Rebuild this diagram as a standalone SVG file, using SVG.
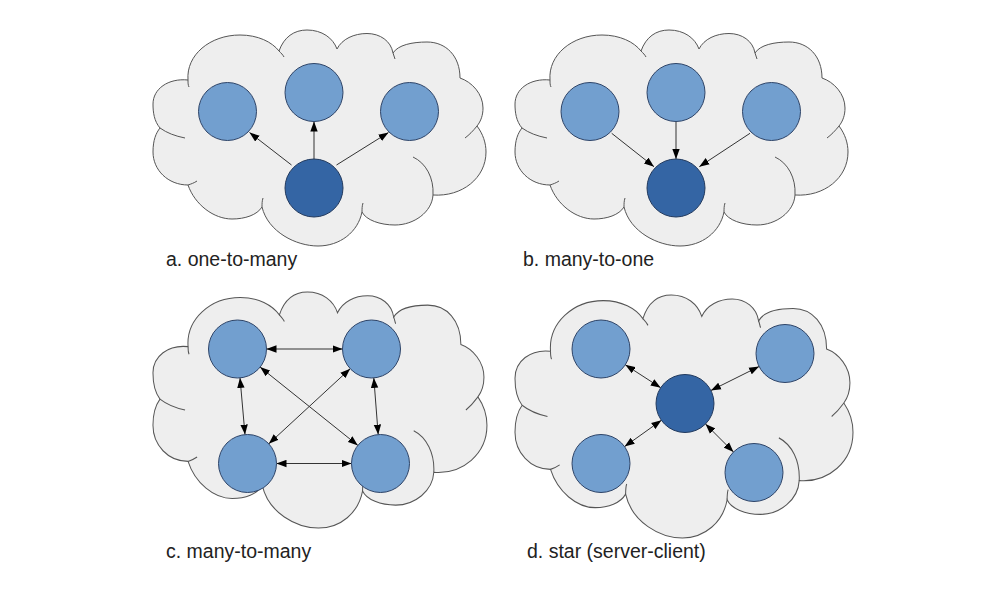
<svg xmlns="http://www.w3.org/2000/svg" xmlns:xlink="http://www.w3.org/1999/xlink" width="992" height="600" viewBox="0 0 992 600">
  <style>
    .cloud { fill: #eeeeee; stroke: #555555; stroke-width: 1; vector-effect: non-scaling-stroke; }
    .tail { fill: none; stroke: #555555; stroke-width: 1; vector-effect: non-scaling-stroke; }
    .light { fill: #729fcf; stroke: #2e4468; stroke-width: 1; }
    .dark { fill: #3465a4; stroke: #223a5e; stroke-width: 1; }
    .conn line { stroke: #333333; stroke-width: 1; fill: none; }
    .one { marker-end: url(#ah); }
    .two { marker-start: url(#ah); marker-end: url(#ah); }
    .label { font-family: "Liberation Sans", Arial, sans-serif; font-size: 19.5px; fill: #222222; }
  </style>
  <defs>
    <marker id="ah" markerWidth="10" markerHeight="8" refX="10" refY="4" orient="auto-start-reverse" markerUnits="userSpaceOnUse">
      <path d="M0,0.3 L10,4 L0,7.7 Z" fill="#000000"/>
    </marker>
    <path id="cloudShape" d="M188,80 C186,55 210,35 240,35 C258,35 272,42 279,51 C284,37 294,30 307,30 C322,30 333,38 337,49 C342,39 354,33.5 367,33.5 C380,33.5 391,41 393,53 C398,45 412,42 427,42 C446,42 460,56 460,78 C472,82 483,94 483,108 C483,115 481,121 477,126 C483,134 486,143 486,152 C486,178 462,197 433,195 C432,212 414,225 395,225 C380,225 366,220 362,212 C358,232 340,246 318,246 C296,246 268,232 262,207 C257,215 245,219 232,219 C214,219 195,205 188,185 C168,185 153,170 153,152 C153,140 156,133 160,128 C154,121 153,112 153,104 C153,89 168,78 188,80 Z"/>
    <path id="cloudTails" d="M188,80 C188,83 188,85 189,87 M279,51 C281,53 283,55 284,57 M393,53 C394,55 394,57 395,59 M477,126 C473,131 469,135 465,138 M433,195 C434,178 426,163 413,157 M362,212 C362,209 362,206 363,203 M262,207 C262,204 262,201 263,198 M188,185 C191,184 194,183 197,181 M160,128 C167,133 175,136 185,138"/>
  </defs>

  <!-- clouds -->
  <g id="cloud-a">
    <use xlink:href="#cloudShape" class="cloud"/>
    <use xlink:href="#cloudTails" class="tail"/>
  </g>
  <g id="cloud-b" transform="translate(362,0)">
    <use xlink:href="#cloudShape" class="cloud"/>
    <use xlink:href="#cloudTails" class="tail"/>
  </g>
  <g id="cloud-c" transform="matrix(1.003,0,0,1.093,-0.5,259.2)">
    <use xlink:href="#cloudShape" class="cloud"/>
    <use xlink:href="#cloudTails" class="tail"/>
  </g>
  <g id="cloud-d" transform="matrix(1.015,0,0,1.125,359.7,261.25)">
    <use xlink:href="#cloudShape" class="cloud"/>
    <use xlink:href="#cloudTails" class="tail"/>
  </g>

  <!-- connectors -->
  <g id="connectors" class="conn">
    <!-- a: one-to-many -->
    <line class="one" x1="314" y1="159" x2="314" y2="121.5"/>
    <line class="one" x1="291.5" y1="165" x2="249.5" y2="132.5"/>
    <line class="one" x1="336.5" y1="165" x2="388.5" y2="132.5"/>
    <!-- b: many-to-one -->
    <line class="one" x1="676" y1="121.5" x2="676" y2="159"/>
    <line class="one" x1="611.7" y1="133.3" x2="654" y2="166.7"/>
    <line class="one" x1="750" y1="133.3" x2="699.3" y2="166.7"/>
    <!-- c: many-to-many -->
    <line class="two" x1="266.5" y1="349" x2="342.5" y2="349"/>
    <line class="two" x1="276.5" y1="463.5" x2="351.5" y2="463.5"/>
    <line class="two" x1="240" y1="377.9" x2="245" y2="434.6"/>
    <line class="two" x1="373.8" y1="377.9" x2="378.2" y2="434.6"/>
    <line class="two" x1="260.1" y1="367.1" x2="357.9" y2="445.4"/>
    <line class="two" x1="350.2" y1="368.7" x2="268.8" y2="443.8"/>
    <!-- d: star -->
    <line class="two" x1="625.3" y1="364.8" x2="660.7" y2="387.7"/>
    <line class="two" x1="759.1" y1="366.5" x2="710.9" y2="390.5"/>
    <line class="two" x1="624.6" y1="446.6" x2="661.4" y2="420.3"/>
    <line class="two" x1="733.5" y1="452" x2="705.5" y2="424"/>
  </g>

  <!-- nodes a -->
  <g id="a-left"><circle class="light" cx="227.5" cy="111.5" r="29"/></g>
  <g id="a-top"><circle class="light" cx="314" cy="92.5" r="29"/></g>
  <g id="a-right"><circle class="light" cx="409.5" cy="111.5" r="29"/></g>
  <g id="a-source"><circle class="dark" cx="314" cy="188" r="29"/></g>
  <!-- nodes b -->
  <g id="b-left"><circle class="light" cx="590" cy="111.5" r="29"/></g>
  <g id="b-top"><circle class="light" cx="676" cy="92.5" r="29"/></g>
  <g id="b-right"><circle class="light" cx="771.5" cy="111.5" r="29"/></g>
  <g id="b-sink"><circle class="dark" cx="676" cy="188" r="29"/></g>
  <!-- nodes c -->
  <g id="c-tl"><circle class="light" cx="237.5" cy="349" r="29"/></g>
  <g id="c-tr"><circle class="light" cx="371.5" cy="349" r="29"/></g>
  <g id="c-bl"><circle class="light" cx="247.5" cy="463.5" r="29"/></g>
  <g id="c-br"><circle class="light" cx="380.5" cy="463.5" r="29"/></g>
  <!-- nodes d -->
  <g id="d-tl"><circle class="light" cx="601" cy="349" r="29"/></g>
  <g id="d-tr"><circle class="light" cx="785" cy="353.5" r="29"/></g>
  <g id="d-server"><circle class="dark" cx="685" cy="403.5" r="29"/></g>
  <g id="d-bl"><circle class="light" cx="601" cy="463.5" r="29"/></g>
  <g id="d-br"><circle class="light" cx="754" cy="472.5" r="29"/></g>

  <!-- labels -->
  <text class="label" x="166" y="266">a. one-to-many</text>
  <text class="label" x="523" y="266">b. many-to-one</text>
  <text class="label" x="166" y="558">c. many-to-many</text>
  <text class="label" x="527" y="558">d. star (server-client)</text>
</svg>
